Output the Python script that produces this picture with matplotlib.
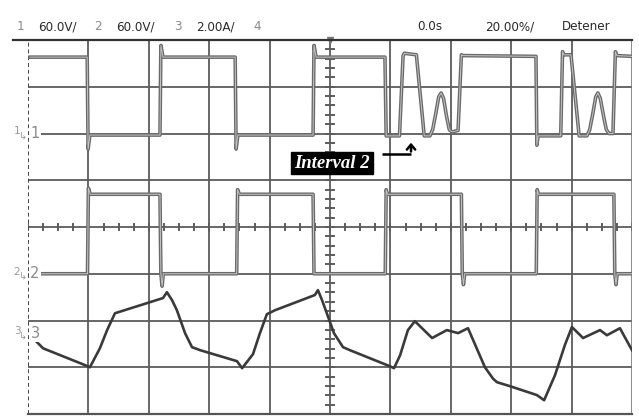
import matplotlib
matplotlib.use("Agg")
import matplotlib.pyplot as plt
import matplotlib.patheffects as pe
import numpy as np

# screen: 10 x 20 ms horizontally, 8 vertical divisions
T_PER_DIV = 20.0
CH_SCALE = [60.0, 60.0, 2.0]        # V/div, V/div, A/div
CH_GROUND = [6.0, 3.0, 1.73]        # ground marker position in divisions

# channel 1 voltage (ms, V)
ch1_t = [-99.3, -80.4, -80.1, -79.5, -56.3, -56.0, -55.3, -31.4, -31.1, -30.5,
         -5.6, -5.3, -4.6, 18.2, 18.6, 23.0, 24.2, 24.6, 28.6, 31.2, 33.1,
         34.0, 35.0, 36.0, 36.8, 37.6, 38.6, 39.5, 40.4, 42.4, 43.5, 44.0,
         68.2, 68.5, 68.9, 76.4, 77.0, 77.4, 79.8, 82.5, 85.1, 86.0, 87.0,
         88.0, 88.7, 89.5, 90.6, 91.5, 92.4, 93.7, 94.5, 95.0, 100.0]
ch1_v = [98, 98, -20, -2, -2, 113, 98, 98, -20, -2,
         -2, 113, 98, 98, -3, -3, 100, 103, 101, -3, -3,
         5, 25, 47, 52, 45, 22, 5, 2, 4, 101, 100,
         99, -15, -3, -3, 105, 101, 101, -3, -3, 5, 25,
         47, 52, 45, 22, 5, 0, 0, 105, 100, 99]

# channel 2 voltage (ms, V)
ch2_t = [-96.0, -80.3, -80.0, -79.4, -56.3, -56.0, -55.6, -55.2, -30.9, -30.6,
         -30.0, -5.6, -5.3, 18.3, 18.6, 19.0, 43.5, 43.8, 44.2, 44.6, 68.3,
         68.6, 69.0, 94.0, 94.3, 94.7, 95.1, 100.0]
ch2_v = [0, 0, 110, 102, 102, 0, -16, 0, 0, 108,
         102, 102, 0, 0, 108, 102, 102, 0, -14, 0, 0,
         108, 102, 102, 0, -14, 0, 0]

# channel 3 current (ms, A)
ch3_t = [-97.0, -95.0, -81.1, -79.5, -76.2, -73.8, -71.2, -55.3, -54.0, -52.3,
         -50.7, -48.0, -45.7, -43.0, -30.8, -29.1, -25.5, -23.2, -20.9, -18.2,
         -5.0, -4.0, -2.6, 0.0, 1.3, 4.3, 6.6, 19.9, 21.2, 23.2, 25.8,
         28.1, 33.8, 38.7, 42.4, 45.7, 47.4, 51.3, 54.0, 55.3, 59.6, 68.5,
         70.9, 74.5, 77.8, 80.1, 83.8, 89.4, 91.7, 96.0, 100.0]
ch3_i = [-0.39, -0.65, -1.37, -1.46, -0.65, 0.13, 0.85, 1.50, 1.75, 1.41,
         0.98, 0.0, -0.60, -0.73, -1.20, -1.50, -0.90, 0.0, 0.81, 0.98,
         1.63, 1.84, 1.40, 0.47, 0.0, -0.60, -0.73, -1.42, -1.50, -0.95, 0.13,
         0.51, -0.21, 0.13, 0.0, 0.21, -0.30, -1.46, -1.95, -2.10, -2.27, -2.65,
         -2.87, -1.80, -0.50, 0.26, -0.21, 0.13, -0.09, 0.21, -0.73]

header_left = [("1", "60.0V/"), ("2", "60.0V/"), ("3", "2.00A/"), ("4", "")]
header_right = ["0.0s", "20.00%/", "Detener"]

W, H = 639, 416
X0, X1, Y0, Y1 = 28, 632, 40, 414


def fx(x):
    return x / W


def fy(y):
    return 1 - y / H


def to_div(vals, ch):
    return CH_GROUND[ch] + np.asarray(vals, float) / CH_SCALE[ch]


fig = plt.figure(figsize=(W / 100, H / 100), dpi=100)
fig.patch.set_facecolor("white")
ax = fig.add_axes([fx(X0), fy(Y1), (X1 - X0) / W, (Y1 - Y0) / H])
ax.set_xlim(-5 * T_PER_DIV, 5 * T_PER_DIV)
ax.set_ylim(0, 8)
ax.axis("off")

grid_c = "#5c5c5c"
for k in range(1, 10):
    ax.axvline(-100 + k * T_PER_DIV, color=grid_c, lw=1.3, zorder=1)
for k in range(1, 8):
    ax.axhline(k, color=grid_c, lw=1.3, zorder=1)

# minor ticks on the centre axes
for t in np.arange(-100, 100.1, 5):
    ax.plot([t, t], [3.93, 4.07], color=grid_c, lw=1.4, zorder=1)
for d in np.arange(0, 8.01, 0.2):
    ax.plot([-1.2, 1.2], [d, d], color=grid_c, lw=1.4, zorder=1)

# borders
ax.plot([-100, -100], [0, 8], color="#444444", lw=1.4, ls=(0, (2, 1.5)), zorder=2)
ax.plot([100, 100], [0, 8], color="#777777", lw=1.2, zorder=2)
ax.plot([-100, 100], [0, 0], color="#555555", lw=1.6, zorder=2, clip_on=False)
fig.add_artist(plt.Line2D([fx(13), fx(X1)], [fy(Y0), fy(Y0)], color="#333333",
                          lw=1.6, transform=fig.transFigure))

# traces
outline = [pe.Stroke(linewidth=2.6, foreground="#6a6a6a"), pe.Normal()]
ax.plot(ch1_t, to_div(ch1_v, 0), color="#c4c4c4", lw=0.7, zorder=4,
        path_effects=outline)
ax.plot(ch2_t, to_div(ch2_v, 1), color="#c4c4c4", lw=0.7, zorder=4,
        path_effects=outline)
ax.plot(ch3_t, to_div(ch3_i, 2), color="#3a3a3a", lw=1.9, zorder=5)

# trigger marker at top centre
ax.plot([0], [8], marker="v", ms=5, color="#777777", clip_on=False, zorder=6)

# channel ground markers
for n, g in enumerate(CH_GROUND, start=1):
    y = Y1 - g * (Y1 - Y0) / 8
    fig.text(fx(17), fy(y - 2), str(n), fontsize=7.5, color="#9a9a9a",
             ha="center", va="center")
    fig.text(fx(23), fy(y + 3), "\u21b3", fontsize=7, color="#9a9a9a",
             ha="center", va="center")
    fig.text(fx(35), fy(y), str(n), fontsize=10.5, color="#8a8a8a",
             ha="center", va="center",
             bbox=dict(boxstyle="square,pad=0.1", fc="white", ec="none"))

# header line
hdr = dict(family="DejaVu Sans", fontstretch="condensed", va="center")
lx = [20, 98, 178, 257]
for (num, lab), x in zip(header_left, lx):
    fig.text(fx(x), fy(27), num, fontsize=9.5, color="#8a8a8a",
             ha="center", **hdr)
    if lab:
        fig.text(fx(x + 18), fy(27), lab, fontsize=9.5, color="#2a2a2a",
                 ha="left", **hdr)
for txt, x in zip(header_right, [430, 510, 586]):
    fig.text(fx(x), fy(27), txt, fontsize=9.5, color="#2a2a2a",
             ha="center", **hdr)

# annotation
def px_t(x):
    return (x - X0) / (X1 - X0) * 200 - 100


def px_d(y):
    return (Y1 - y) / (Y1 - Y0) * 8


ax.text(px_t(332), px_d(163), "Interval 2", color="white", fontsize=13.5,
        fontweight="bold", fontstyle="italic", family="Liberation Serif",
        ha="center", va="center", zorder=8,
        bbox=dict(boxstyle="square,pad=0.15", fc="black", ec="black"))
ax.plot([px_t(382), px_t(411)], [px_d(153.5), px_d(153.5)], color="black",
        lw=1.8, zorder=8, solid_capstyle="butt")
ax.annotate("", xy=(px_t(411), px_d(140)), xytext=(px_t(411), px_d(154.3)),
            arrowprops=dict(arrowstyle="->,head_width=0.3,head_length=0.35",
                            color="black", lw=1.8), zorder=8)

fig.savefig("out.png", dpi=100)
